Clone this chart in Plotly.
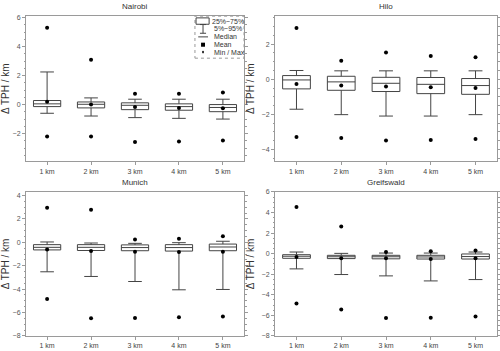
import plotly.graph_objects as go
from plotly.subplots import make_subplots

cats = ['1 km', '2 km', '3 km', '4 km', '5 km']
stations = ['Nairobi', 'Hilo', 'Munich', 'Greifswald']

# per station: 5% / 25% / median / 75% / 95%, mean, min, max
nairobi_p5 = [-0.6, -0.79, -0.9, -0.95, -1.0]
nairobi_q1 = [-0.14, -0.23, -0.35, -0.39, -0.49]
nairobi_med = [0.05, 0.02, -0.05, -0.14, -0.2]
nairobi_q3 = [0.28, 0.18, 0.12, 0.05, 0.0]
nairobi_p95 = [2.25, 0.46, 0.37, 0.37, 0.37]
nairobi_mean = [0.2, 0.0, -0.16, -0.23, -0.25]
nairobi_min = [-2.2, -2.2, -2.59, -2.54, -2.47]
nairobi_max = [5.3, 3.1, 0.74, 0.74, 0.83]

hilo_p5 = [-1.71, -2.02, -2.1, -2.1, -2.02]
hilo_q1 = [-0.55, -0.63, -0.7, -0.82, -0.86]
hilo_med = [-0.04, -0.15, -0.23, -0.29, -0.36]
hilo_q3 = [0.21, 0.17, 0.11, 0.1, 0.04]
hilo_p95 = [0.5, 0.48, 0.48, 0.48, 0.48]
hilo_mean = [-0.27, -0.36, -0.42, -0.46, -0.5]
hilo_min = [-3.3, -3.35, -3.5, -3.47, -3.41]
hilo_max = [2.93, 1.05, 1.52, 1.33, 1.26]

munich_p5 = [-2.52, -2.92, -3.35, -4.06, -4.03]
munich_q1 = [-0.65, -0.7, -0.72, -0.75, -0.72]
munich_med = [-0.43, -0.43, -0.45, -0.45, -0.4]
munich_q3 = [-0.2, -0.2, -0.22, -0.2, -0.15]
munich_p95 = [0.03, -0.06, -0.09, -0.03, 0.09]
munich_mean = [-0.62, -0.75, -0.8, -0.82, -0.8]
munich_min = [-4.85, -6.5, -6.47, -6.41, -6.35]
munich_max = [2.95, 2.78, 0.23, 0.31, 0.51]

greif_p5 = [-1.48, -2.03, -2.16, -2.65, -2.52]
greif_q1 = [-0.45, -0.48, -0.5, -0.52, -0.52]
greif_med = [-0.25, -0.3, -0.3, -0.32, -0.28]
greif_q3 = [-0.1, -0.16, -0.16, -0.16, -0.03]
greif_p95 = [0.16, 0.03, 0.06, 0.06, 0.16]
greif_mean = [-0.32, -0.45, -0.45, -0.52, -0.45]
greif_min = [-4.84, -5.42, -6.26, -6.23, -6.1]
greif_max = [4.55, 2.65, 0.16, 0.23, 0.32]

stats = [
    (nairobi_p5, nairobi_q1, nairobi_med, nairobi_q3, nairobi_p95, nairobi_mean, nairobi_min, nairobi_max),
    (hilo_p5, hilo_q1, hilo_med, hilo_q3, hilo_p95, hilo_mean, hilo_min, hilo_max),
    (munich_p5, munich_q1, munich_med, munich_q3, munich_p95, munich_mean, munich_min, munich_max),
    (greif_p5, greif_q1, greif_med, greif_q3, greif_p95, greif_mean, greif_min, greif_max),
]
y_ranges = [[-3.9, 6.1], [-4.67, 3.6], [-8, 4.3], [-8, 6]]

FONT = 'Arial, Liberation Sans, sans-serif'
LINE = '#444444'
FRAME = '#9a9a9a'

fig = make_subplots(rows=2, cols=2)

for i, (p5, q1, med, q3, p95, mean, mn, mx) in enumerate(stats):
    r, c = i // 2 + 1, i % 2 + 1
    fig.add_trace(go.Box(x=cats, q1=q1, median=med, q3=q3, lowerfence=p5, upperfence=p95,
                         fillcolor='white', line=dict(color=LINE, width=1),
                         width=0.62, whiskerwidth=0.5, boxpoints=False,
                         hoverinfo='skip', showlegend=False), row=r, col=c)
    fig.add_trace(go.Scatter(x=cats, y=mean, mode='markers',
                             marker=dict(color='black', size=4), showlegend=False), row=r, col=c)
    fig.add_trace(go.Scatter(x=cats + cats, y=mn + mx, mode='markers',
                             marker=dict(color='black', size=4), showlegend=False), row=r, col=c)

x_domains = [[0.052, 0.488], [0.55, 0.994]]
y_domains = [[0.541, 0.954], [0.043, 0.453]]

for i in range(4):
    r, c = i // 2, i % 2
    sfx = '' if i == 0 else str(i + 1)
    fig.layout['xaxis' + sfx].update(
        domain=x_domains[c], range=[-0.48, 4.48], showline=True, mirror=True,
        linecolor=FRAME, linewidth=1, ticks='outside', ticklen=3, tickcolor=FRAME,
        tickfont=dict(size=7, color='#444'), showgrid=False, zeroline=False,
        automargin=False)
    fig.layout['yaxis' + sfx].update(
        domain=y_domains[r], range=y_ranges[i], dtick=2, showline=True, mirror='allticks',
        linecolor=FRAME, linewidth=1, ticks='outside', ticklen=3, tickcolor=FRAME,
        minor=dict(ticks='outside', ticklen=1.5, dtick=0.5, tickcolor=FRAME),
        tickfont=dict(size=7, color='#555'), showgrid=False, zeroline=False,
        automargin=False,
        title=dict(text='Δ TPH / km', font=dict(size=10, color='#333'), standoff=5))
    fig.add_annotation(text=stations[i], xref='x' + sfx + ' domain', yref='y' + sfx + ' domain',
                       x=0.5, y=1.0, yshift=3, xanchor='center', yanchor='bottom',
                       showarrow=False, font=dict(size=8, color='#333'))

# legend drawn by hand in the Nairobi panel
lx, ly = 'x domain', 'y domain'
fig.add_shape(type='rect', xref=lx, yref=ly, x0=0.775, x1=1.0, y0=0.71, y1=1.0,
              line=dict(color=FRAME, width=1, dash='dot'), fillcolor='white')
rows_y = [0.966, 0.912, 0.857, 0.803, 0.752]
fig.add_shape(type='rect', xref=lx, yref=ly, x0=0.78, x1=0.84, y0=rows_y[0] - 0.022,
              y1=rows_y[0] + 0.022, line=dict(color=LINE, width=1))
fig.add_shape(type='line', xref=lx, yref=ly, x0=0.812, x1=0.812, y0=rows_y[1] - 0.03,
              y1=rows_y[1] + 0.03, line=dict(color=LINE, width=1))
for yy in (rows_y[1] - 0.03, rows_y[1] + 0.03):
    fig.add_shape(type='line', xref=lx, yref=ly, x0=0.798, x1=0.826, y0=yy, y1=yy,
                  line=dict(color=LINE, width=1))
fig.add_shape(type='line', xref=lx, yref=ly, x0=0.79, x1=0.835, y0=rows_y[2], y1=rows_y[2],
              line=dict(color=LINE, width=1))
fig.add_shape(type='rect', xref=lx, yref=ly, x0=0.803, x1=0.821, y0=rows_y[3] - 0.014,
              y1=rows_y[3] + 0.014, line=dict(color='black', width=0), fillcolor='black')
fig.add_shape(type='circle', xref=lx, yref=ly, x0=0.808, x1=0.816, y0=rows_y[4] - 0.01,
              y1=rows_y[4] + 0.01, line=dict(color='black', width=0), fillcolor='black')
labels = ['25%~75%', '5%~95%', 'Median', 'Mean', 'Min / Max']
for k, t in enumerate(labels):
    fig.add_annotation(text=t, xref=lx, yref=ly, x=0.843 if k == 0 else 0.855, y=rows_y[k],
                       xanchor='left', yanchor='middle', showarrow=False,
                       font=dict(size=7, color='#333'))

fig.update_layout(width=500, height=351, margin=dict(l=0, r=0, t=0, b=0),
                  paper_bgcolor='white', plot_bgcolor='white',
                  font=dict(family=FONT), showlegend=False)

# the page body has a default 8px margin; drop it so the figure sits at the window corner
fig.write_html('out.html', config={'displayModeBar': False},
               post_script="document.body.style.margin='0';")
